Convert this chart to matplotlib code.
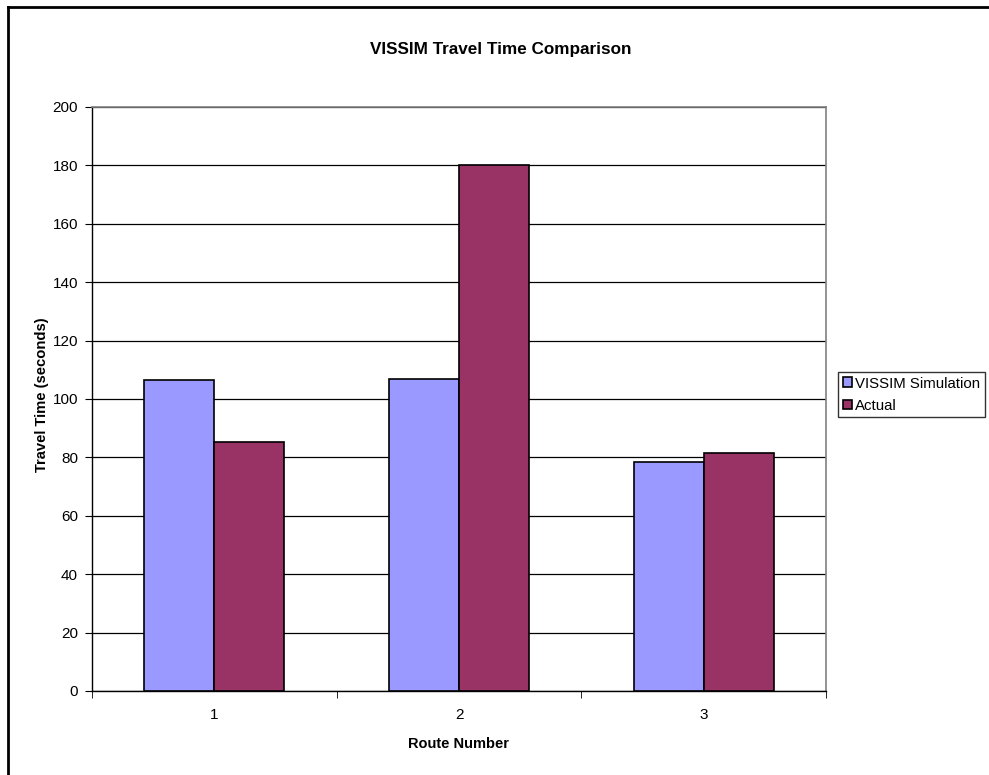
import matplotlib
matplotlib.use("Agg")
import matplotlib.pyplot as plt
import numpy as np
from matplotlib.lines import Line2D

plt.rcParams['font.family'] = ['Liberation Sans', 'DejaVu Sans']

routes = ["1", "2", "3"]
vissim = [106.4, 106.8, 78.3]
actual = [85.4, 180.3, 81.4]
series_names = ["VISSIM Simulation", "Actual"]
yticks = [0, 20, 40, 60, 80, 100, 120, 140, 160, 180, 200]

fig = plt.figure(figsize=(9.89, 7.75), dpi=100)
ax = fig.add_axes([92/989, 1-691/775, (826-92)/989, (691-107)/775])

x = np.arange(len(routes))
w = 0.286
ax.bar(x - w/2, vissim, width=w, color="#9999FF", edgecolor="black", linewidth=1.2, label=series_names[0], zorder=3)
ax.bar(x + w/2, actual, width=w, color="#993366", edgecolor="black", linewidth=1.2, label=series_names[1], zorder=3)

ax.set_xlim(-0.5, len(routes) - 0.5)
ax.set_ylim(0, 200)
ax.set_yticks(yticks)
ax.set_yticklabels([str(v) for v in yticks], fontsize=11)
ax.yaxis.grid(True, color="black", linewidth=0.9, zorder=0)
ax.set_axisbelow(True)

ax.set_xticks(x)
ax.set_xticklabels(routes, fontsize=11)
ax.tick_params(axis='x', length=0, pad=12)
ax.set_xticks(np.arange(-0.5, len(routes), 1.0), minor=True)
ax.tick_params(axis='x', which='minor', length=5, direction='out', color='black')
ax.tick_params(axis='y', length=5, direction='out', color='black', pad=5)

for s in ['top', 'right']:
    ax.spines[s].set_color('#808080')
    ax.spines[s].set_linewidth(1.2)
for s in ['left', 'bottom']:
    ax.spines[s].set_color('black')
    ax.spines[s].set_linewidth(1.0)

ax.set_xlabel("Route Number", fontsize=10.5, fontweight='bold', labelpad=11)
ax.set_ylabel("Travel Time (seconds)", fontsize=10.6, fontweight='bold')
ax.yaxis.label.set_verticalalignment('center')
ax.yaxis.set_label_coords((42-92)/734, (691-395)/584)

fig.text(501/989, 1-54/775, "VISSIM Travel Time Comparison", ha='center', va='baseline',
         fontsize=12.3, fontweight='bold')

leg = ax.legend(loc='upper left', bbox_to_anchor=(838/989, 1-372/775), bbox_transform=fig.transFigure,
                frameon=True, fancybox=False, fontsize=10.8, handlelength=0.6, handleheight=0.6,
                handletextpad=0.25, borderpad=0.3, labelspacing=0.55, borderaxespad=0)
leg.get_frame().set_edgecolor('black')
leg.get_frame().set_linewidth(1.0)

# outer chart border (top and left visible)
fig.add_artist(Line2D([8/989, 8/989], [0, 1-7/775], transform=fig.transFigure, color='black', linewidth=2))
fig.add_artist(Line2D([8/989, 1], [1-7/775, 1-7/775], transform=fig.transFigure, color='black', linewidth=2))

fig.savefig("out.png", dpi=100)
